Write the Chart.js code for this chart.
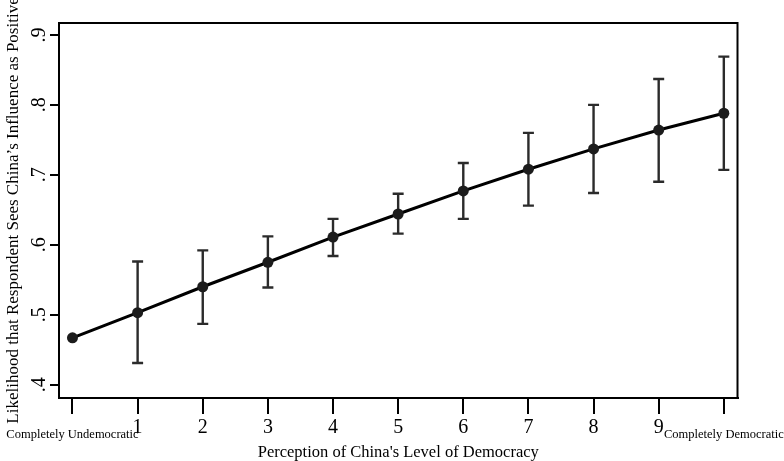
<!DOCTYPE html>
<html>
<head>
<meta charset="utf-8">
<script src="https://cdn.jsdelivr.net/npm/chart.js@4.4.1/dist/chart.umd.min.js"></script>
<style>
  html, body { margin: 0; padding: 0; background: #fff; }
  #wrap { width: 784px; height: 461px; position: relative; }
</style>
</head>
<body>
<div id="wrap"><canvas id="chart"></canvas></div>
<script>
// perception of democracy, 0 = completely undemocratic, 10 = completely democratic
const levels = [0, 1, 2, 3, 4, 5, 6, 7, 8, 9, 10];
const estimates = [0.467, 0.503, 0.540, 0.575, 0.611, 0.644, 0.677, 0.708, 0.737, 0.764, 0.788];
const lower = [null, 0.431, 0.487, 0.539, 0.584, 0.616, 0.637, 0.656, 0.674, 0.690, 0.707];
const upper = [null, 0.576, 0.592, 0.612, 0.637, 0.673, 0.717, 0.760, 0.800, 0.837, 0.869];

const xTickLabels = ["Completely Undemocratic", "1", "2", "3", "4", "5", "6", "7", "8", "9", "Completely Democratic"];
const yTicks = [0.4, 0.5, 0.6, 0.7, 0.8, 0.9];
const yTickLabels = [".4", ".5", ".6", ".7", ".8", ".9"];

const SERIF = "'Liberation Serif', 'Times New Roman', serif";

function $(id) {
  return document.getElementById(id);
}

// whiskers, drawn under the markers
const errorBars = {
  id: "errorBars",
  beforeDatasetsDraw(chart) {
    const { ctx, scales } = chart;
    const x = scales.x;
    const y = scales.y;
    ctx.save();
    ctx.strokeStyle = "#2b2b2b";
    ctx.lineWidth = 2.4;
    for (let i = 0; i < levels.length; i++) {
      if (lower[i] === null || upper[i] === null) continue;
      const px = x.getPixelForValue(levels[i]);
      const lo = y.getPixelForValue(lower[i]);
      const hi = y.getPixelForValue(upper[i]);
      ctx.beginPath();
      ctx.moveTo(px, lo);
      ctx.lineTo(px, hi);
      ctx.moveTo(px - 5.5, lo);
      ctx.lineTo(px + 5.5, lo);
      ctx.moveTo(px - 5.5, hi);
      ctx.lineTo(px + 5.5, hi);
      ctx.stroke();
    }
    ctx.restore();
  },
};

// box round the plot, rotated y labels, end labels, y title
const frameAndText = {
  id: "frameAndText",
  afterDraw(chart) {
    const { ctx, chartArea, scales } = chart;
    ctx.save();
    ctx.strokeStyle = "#000";
    ctx.lineWidth = 2;
    ctx.strokeRect(chartArea.left, chartArea.top, chartArea.right - chartArea.left, chartArea.bottom - chartArea.top);

    ctx.fillStyle = "#000";
    ctx.font = "20px " + SERIF;
    ctx.textAlign = "center";
    ctx.textBaseline = "alphabetic";
    yTicks.forEach((v, i) => {
      const py = scales.y.getPixelForValue(v);
      ctx.save();
      ctx.translate(45, py);
      ctx.rotate(-Math.PI / 2);
      ctx.fillText(yTickLabels[i], 0, 0);
      ctx.restore();
    });

    ctx.font = "12.5px " + SERIF;
    [0, 10].forEach((v) => {
      ctx.fillText(xTickLabels[v], scales.x.getPixelForValue(v), 438);
    });

    ctx.font = "17px " + SERIF;
    ctx.save();
    ctx.translate(18, (chartArea.top + chartArea.bottom) / 2);
    ctx.rotate(-Math.PI / 2);
    ctx.fillText("Likelihood that Respondent Sees China\u2019s Influence as Positive", 0, 0);
    ctx.restore();
    ctx.restore();
  },
};

new Chart($("chart"), {
  type: "line",
  data: {
    datasets: [
      {
        data: levels.map((v, i) => ({ x: v, y: estimates[i] })),
        borderColor: "#000",
        borderWidth: 3,
        pointRadius: 5.5,
        pointBackgroundColor: "#1c1c1c",
        pointBorderColor: "#1c1c1c",
        pointBorderWidth: 0,
        tension: 0,
      },
    ],
  },
  options: {
    responsive: true,
    maintainAspectRatio: false,
    animation: false,
    devicePixelRatio: 1,
    layout: { padding: { left: 0, top: 23, right: 46.5, bottom: 0 } },
    plugins: {
      legend: { display: false },
      tooltip: { enabled: false },
    },
    scales: {
      x: {
        type: "linear",
        min: -0.207,
        max: 10.21,
        afterBuildTicks(scale) {
          scale.ticks = levels.map((v) => ({ value: v }));
        },
        afterFit(scale) {
          scale.height = 63;
        },
        grid: {
          drawOnChartArea: false,
          drawTicks: true,
          tickLength: 16,
          color: "#000",
          lineWidth: 2,
        },
        border: { display: true, color: "#000", width: 2 },
        ticks: {
          autoSkip: false,
          maxRotation: 0,
          padding: 2,
          color: "#000",
          font: { family: SERIF, size: 20 },
          callback: (v) => (v === 0 || v === 10 ? "" : xTickLabels[v]),
        },
        title: {
          display: true,
          text: "Perception of China's Level of Democracy",
          color: "#000",
          font: { family: SERIF, size: 16.5, lineHeight: 1 },
          padding: 0,
        },
      },
      y: {
        type: "linear",
        min: 0.381,
        max: 0.917,
        afterBuildTicks(scale) {
          scale.ticks = yTicks.map((v) => ({ value: v }));
        },
        afterFit(scale) {
          scale.width = 59;
        },
        grid: {
          drawOnChartArea: false,
          drawTicks: true,
          tickLength: 9,
          color: "#000",
          lineWidth: 2,
        },
        border: { display: true, color: "#000", width: 2 },
        ticks: { display: false },
      },
    },
  },
  plugins: [errorBars, frameAndText],
});
</script>
</body>
</html>
